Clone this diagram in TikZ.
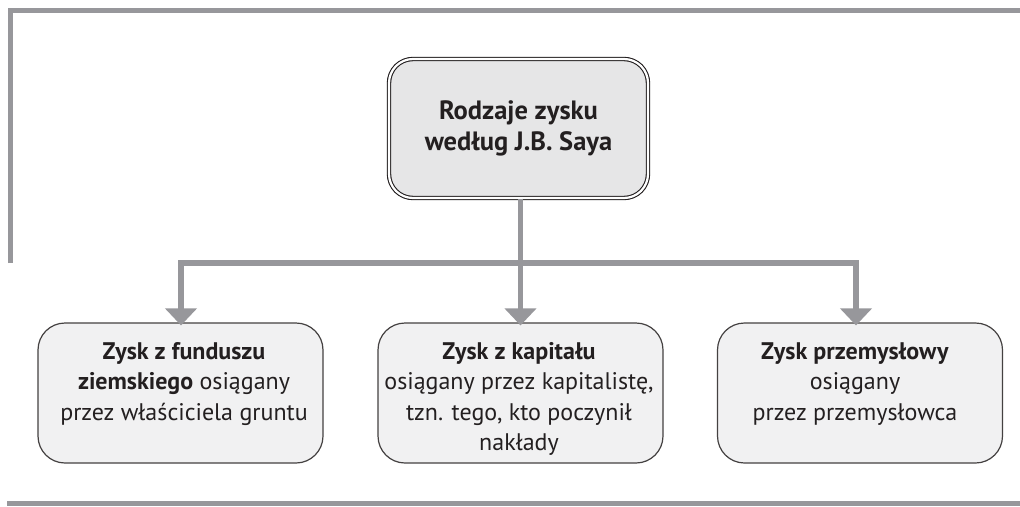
\documentclass[tikz,border=0pt]{standalone}
\usepackage{fontspec}
\setmainfont{PT Sans}
\usetikzlibrary{arrows.meta}
\definecolor{framegray}{HTML}{97979B}
\definecolor{txt}{HTML}{231F20}
\definecolor{topfill}{HTML}{E6E6E7}
\definecolor{boxfill}{HTML}{F1F1F2}
\tikzset{
  frameline/.style={draw=framegray, line width=5.5pt, line join=miter},
  conn/.style={draw=framegray, line width=5.5pt},
  arr/.style={conn, -{Triangle[width=31pt,length=17pt]}},
  topbox/.style={draw=txt, line width=1.1pt, double=white, double distance=2.2pt,
    rounded corners=24pt, fill=topfill, minimum width=259pt, minimum height=139pt,
    text=txt, align=center, font=\fontsize{26.5}{31}\selectfont\bfseries, inner sep=0pt},
  lowbox/.style={draw=txt!85, line width=1.2pt, rounded corners=27pt, fill=boxfill,
    minimum width=285pt, minimum height=140pt, inner sep=0pt},
  lowtext/.style={text=txt, align=center, anchor=north, inner sep=0pt,
    font=\fontsize{24}{30.5}\selectfont}
}
\begin{document}
\begin{tikzpicture}[x=1pt,y=-1pt]
\useasboundingbox (0,0) rectangle (1020,506);
% frame
\draw[frameline] (10.5,263) -- (10.5,10.5) -- (1020,10.5);
\draw[frameline] (7,503.5) -- (1020,503.5);
% boxes
\node[topbox] (top) at (518.5,128.5) {Rodzaje zysku\\według J.B. Saya};
\node[lowbox] (lb) at (180.5,393) {};
\node[lowbox] (mb) at (520.5,393) {};
\node[lowbox] (rb) at (860,393) {};
\node[lowtext] (lt) at (184,342) {\textbf{Zysk z funduszu}\\\textbf{ziemskiego} osiągany\\przez właściciela gruntu};
\node[lowtext] (mt) at (519,342) {\textbf{Zysk z kapitału}\\osiągany przez kapitalistę,\\tzn. tego, kto poczynił\\nakłady};
\node[lowtext] (rt) at (855,342) {\textbf{Zysk przemysłowy}\\osiągany\\przez przemysłowca};
% connectors
\coordinate (jl) at (181,263);
\coordinate (jm) at (520.5,263);
\coordinate (jr) at (856,263);
\draw[conn] (jm |- top.south) -- (jm);
\draw[conn] ([xshift=-2.75pt]jl) -- ([xshift=2.75pt]jr);
\draw[arr] ([yshift=2.75pt]jl) -- ([yshift=-3pt]jl |- lb.north);
\draw[arr] (jm) -- ([yshift=-3pt]jm |- mb.north);
\draw[arr] ([yshift=2.75pt]jr) -- ([yshift=-3pt]jr |- rb.north);
\end{tikzpicture}
\end{document}
